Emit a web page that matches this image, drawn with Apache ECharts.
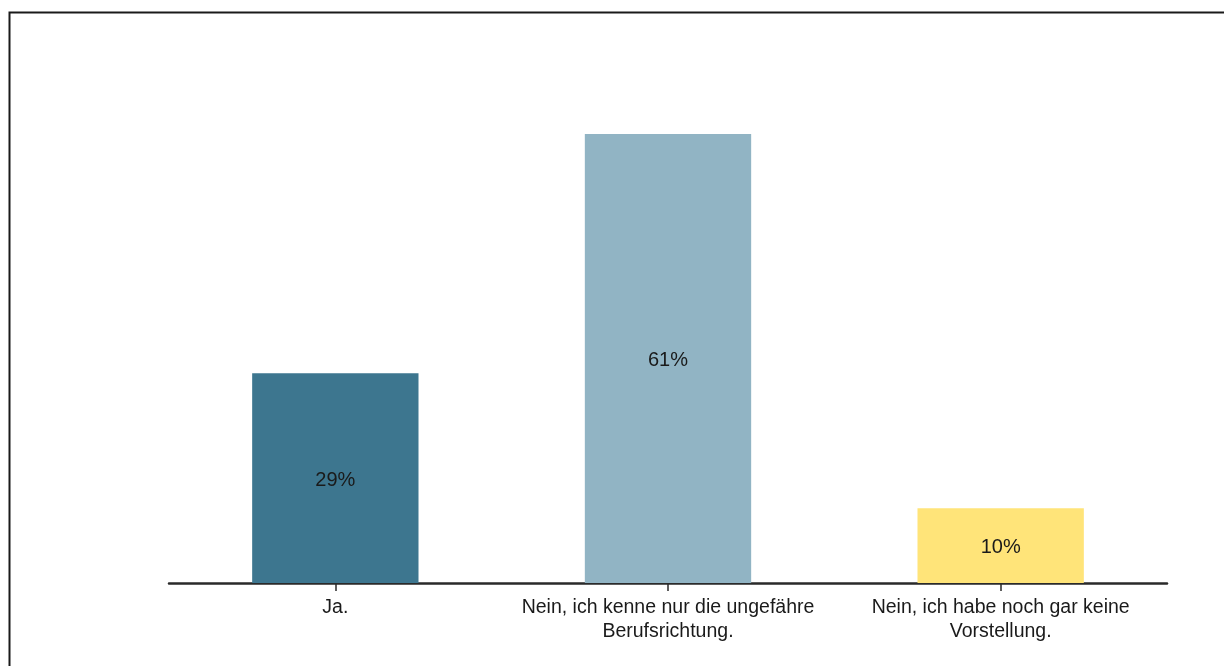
<!DOCTYPE html>
<html>
<head>
<meta charset="utf-8">
<script src="https://cdn.jsdelivr.net/npm/echarts@6/dist/echarts.min.js"></script>
<style>
  html, body { margin: 0; padding: 0; background: #fff; }
  #chart { width: 1224px; height: 666px; }
</style>
</head>
<body>
<div id="chart"></div>
<script>
const categories = [
  'Ja.',
  'Nein, ich kenne nur die ungefähre\nBerufsrichtung.',
  'Nein, ich habe noch gar keine\nVorstellung.'
];
const values = [28.6, 61.2, 10.2];
const barColors = ['#3D768F', '#91B4C4', '#FFE479'];

const chart = echarts.init(document.getElementById('chart'), null, { renderer: 'canvas' });
chart.setOption({
  backgroundColor: '#ffffff',
  animation: false,
  graphic: [{
    type: 'rect',
    shape: { x: 9.5, y: 12.5, width: 1400, height: 800 },
    style: { fill: 'none', stroke: '#1a1a1a', lineWidth: 2 },
    silent: true
  }],
  grid: { left: 169, right: 57, top: 69.4, bottom: 83 },
  xAxis: {
    type: 'category',
    data: categories,
    axisLine: { show: true, lineStyle: { color: '#2a2a2a', width: 2.5 } },
    axisTick: { show: true, alignWithLabel: true, length: 8, lineStyle: { color: '#2a2a2a', width: 1.5 } },
    axisLabel: {
      color: '#1a1a1a',
      fontFamily: 'Liberation Sans, Arial, sans-serif',
      fontSize: 19.5,
      lineHeight: 24,
      margin: 13,
      interval: 0
    }
  },
  yAxis: {
    type: 'value',
    min: 0,
    max: 70,
    show: false,
    splitLine: { show: false }
  },
  series: [{
    type: 'bar',
    barWidth: '50%',
    data: values.map((v, i) => ({ value: v, itemStyle: { color: barColors[i] } })),
    label: {
      show: true,
      position: 'inside',
      offset: [0, 2],
      color: '#1a1a1a',
      fontFamily: 'Liberation Sans, Arial, sans-serif',
      fontSize: 20,
      formatter: p => Math.round(p.value) + '%'
    }
  }]
});
</script>
</body>
</html>
